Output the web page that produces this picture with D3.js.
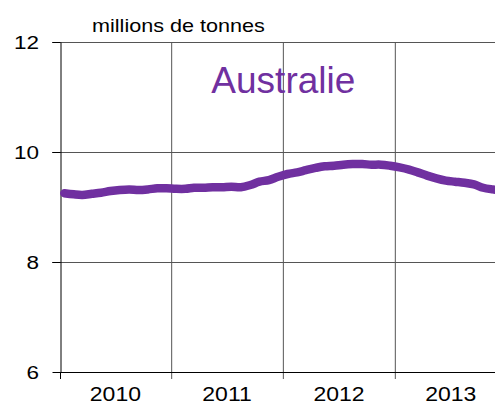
<!DOCTYPE html>
<html>
<head>
<meta charset="utf-8">
<script src="https://cdn.jsdelivr.net/npm/d3@7"></script>
<style>
  body { margin: 0; background: #fff; }
  svg { display: block; font-family: "Liberation Sans", Arial, sans-serif; }
</style>
</head>
<body>
<div id="chart"></div>
<script>
// monthly values, Jan 2010 .. Dec 2013 (millions de tonnes)
var months = d3.timeMonths(new Date(2010, 0, 1), new Date(2014, 0, 1));
var values = [
  9.25, 9.23, 9.22, 9.24, 9.26, 9.29, 9.31, 9.32, 9.31, 9.32, 9.34, 9.34,
  9.33, 9.33, 9.35, 9.35, 9.36, 9.36, 9.37, 9.36, 9.40, 9.46, 9.49, 9.55,
  9.60, 9.63, 9.67, 9.71, 9.74, 9.75, 9.77, 9.78, 9.78, 9.77, 9.77, 9.75,
  9.72, 9.68, 9.63, 9.57, 9.52, 9.48, 9.46, 9.44, 9.41, 9.35, 9.32, 9.30
];
var years = [2010, 2011, 2012, 2013];
var yTicks = [6, 8, 10, 12];
var title = "Australie";
var unit = "millions de tonnes";

var width = 495,
    height = 405,
    mLeft = 60,
    mTop = 42,
    mBottom = 372;

var svg = d3.select("#chart").append("svg")
    .attr("width", width)
    .attr("height", height);

var x = d3.scaleTime()
    .domain([new Date(2010, 0, 1), new Date(2014, 0, 1)])
    .range([mLeft, 507]);

var y = d3.scaleLinear()
    .domain([6, 12])
    .range([mBottom, mTop]);

// horizontal grid
svg.append("g")
  .selectAll("line")
  .data(yTicks.filter(d => d > 6))
  .join("line")
    .attr("x1", mLeft - 8)
    .attr("x2", width)
    .attr("y1", d => Math.round(y(d)) + 0.5)
    .attr("y2", d => Math.round(y(d)) + 0.5)
    .attr("stroke", "#555")
    .attr("stroke-width", 1);

// vertical grid at year boundaries
svg.append("g")
  .selectAll("line")
  .data(years.slice(1))
  .join("line")
    .attr("x1", d => x(new Date(d, 0, 1)))
    .attr("x2", d => x(new Date(d, 0, 1)))
    .attr("y1", mTop)
    .attr("y2", mBottom + 7)
    .attr("stroke", "#555")
    .attr("stroke-width", 1);

// y axis
var yAxis = svg.append("g")
    .attr("transform", "translate(" + (mLeft + 0.5) + ",0)")
    .call(d3.axisLeft(y).tickValues(yTicks).tickSize(8).tickSizeOuter(0).tickFormat(""));
yAxis.select(".domain").attr("stroke", "#000");
yAxis.selectAll(".tick line").attr("stroke", "#000");

svg.append("g")
  .selectAll("text")
  .data(yTicks)
  .join("text")
    .attr("transform", d => "translate(39," + (y(d) + 6.5) + ") scale(1.25,1)")
    .attr("text-anchor", "end")
    .attr("font-size", 18)
    .attr("fill", "#000")
    .text(d => d);

// x axis
svg.append("line")
    .attr("x1", mLeft)
    .attr("x2", width)
    .attr("y1", mBottom + 0.5)
    .attr("y2", mBottom + 0.5)
    .attr("stroke", "#000");

svg.append("line")
    .attr("x1", mLeft + 0.5)
    .attr("x2", mLeft + 0.5)
    .attr("y1", mBottom)
    .attr("y2", mBottom + 7)
    .attr("stroke", "#000");

svg.append("g")
  .selectAll("text")
  .data(years)
  .join("text")
    .attr("transform", d => "translate(" + x(new Date(d, 6, 1)) + ",401) scale(1.15,1)")
    .attr("text-anchor", "middle")
    .attr("font-size", 20)
    .attr("fill", "#000")
    .text(d => d);

// unit label
svg.append("text")
    .attr("transform", "translate(92,32) scale(1.2,1)")
    .attr("font-size", 18)
    .attr("fill", "#000")
    .text(unit);

// line
var line = d3.line()
    .x((d, i) => x(d3.timeDay.offset(months[i], 14)))
    .y(d => y(d))
    .curve(d3.curveCatmullRom);

svg.append("path")
    .datum(values)
    .attr("d", line)
    .attr("fill", "none")
    .attr("stroke", "#7030A0")
    .attr("stroke-width", 8.5)
    .attr("stroke-linecap", "round")
    .attr("stroke-linejoin", "round");

// title
svg.append("text")
    .attr("x", x(new Date(2012, 0, 1)))
    .attr("y", 93)
    .attr("text-anchor", "middle")
    .attr("font-size", 37)
    .attr("fill", "#7030A0")
    .text(title);
</script>
</body>
</html>
